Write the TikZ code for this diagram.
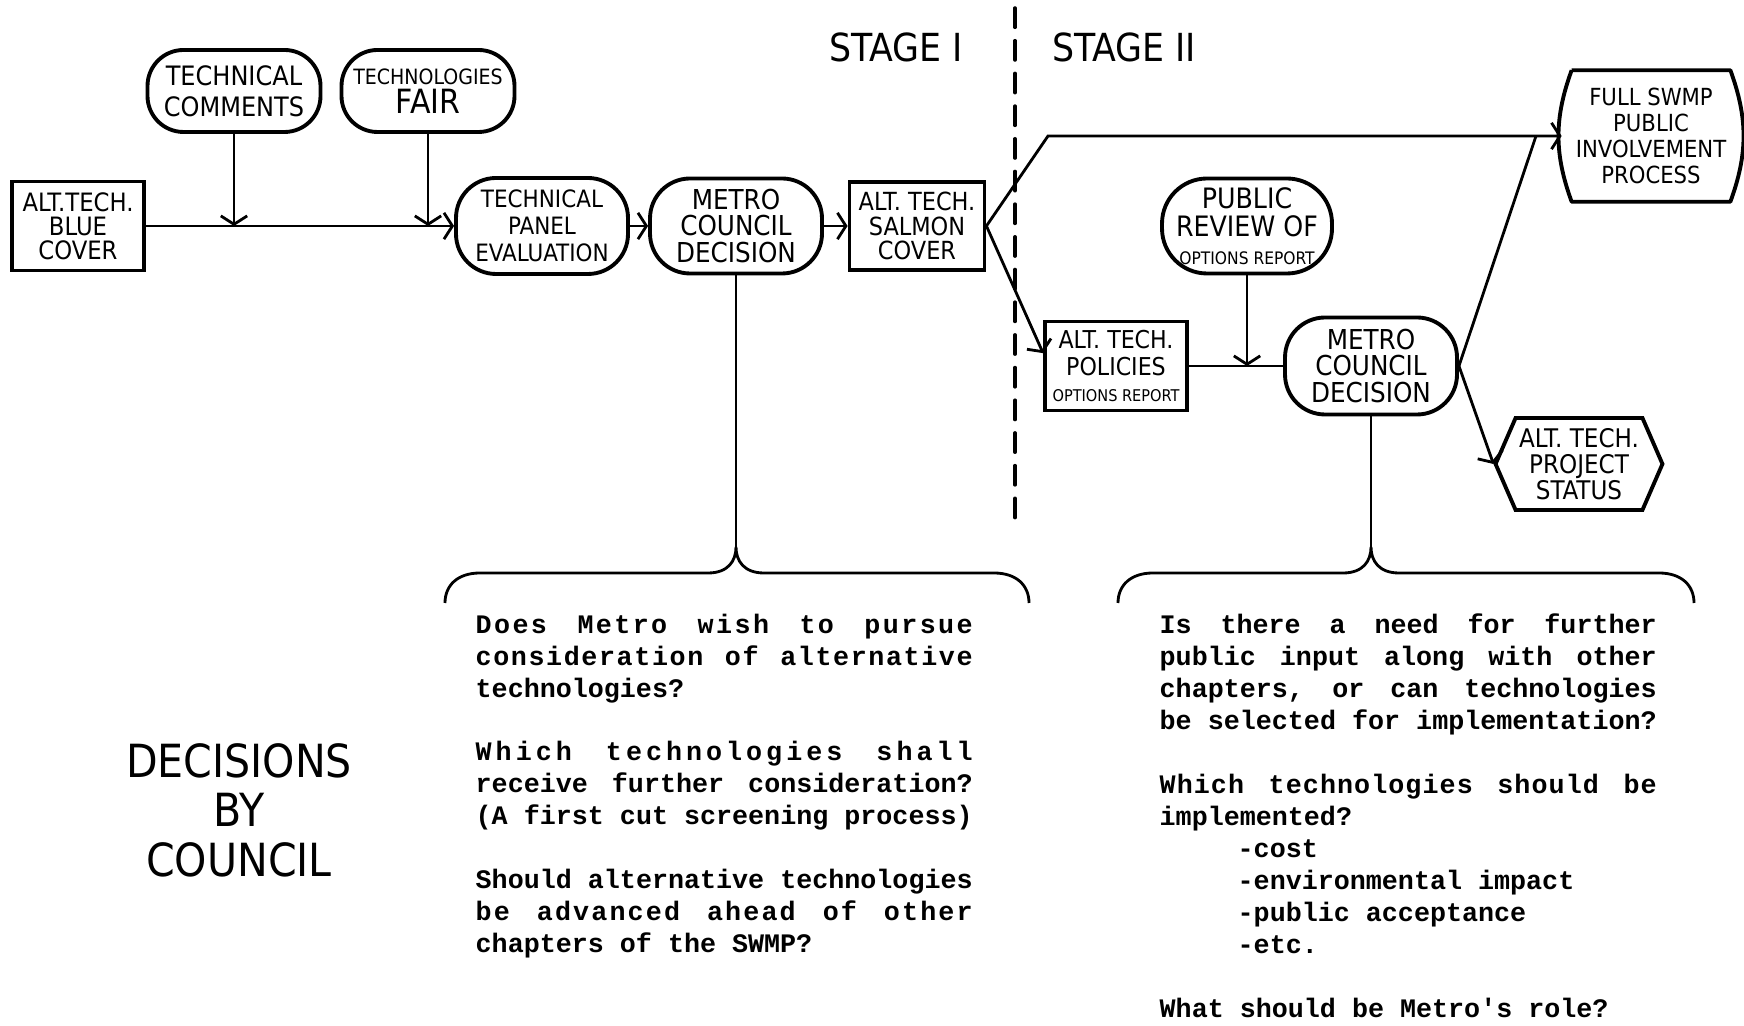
\documentclass[tikz,border=0pt]{standalone}
\usepackage{fontspec}
\usepackage{tikz}
\usetikzlibrary{arrows.meta, positioning, calc, shapes.symbols}
\newfontfamily\handfont{DejaVu Sans Condensed}
\newfontfamily\typefont{Liberation Mono}
\newcommand\hf[2]{\handfont\fontsize{#1}{#2}\selectfont}
\newlength\qwidth
\setlength\qwidth{4.97cm}
% one justified typewriter line, optionally letter-spaced
\newcommand\jl[2][0]{\makebox[\qwidth][s]{\addfontfeature{LetterSpace=#1}\spaceskip=0.6em plus 1fil\relax #2}}
\tikzset{
  pill/.style={rectangle, rounded corners=#1, draw, line width=1.1pt,
               align=center, inner sep=1pt},
  pill/.default=0.40cm,
  card/.style={rectangle, draw, line width=1.1pt, align=center, inner sep=1pt},
  hexa/.style={signal, signal to=west and east, signal pointer angle=133,
               draw, line width=1.1pt, align=center, inner sep=1pt},
  barrel/.style={rectangle, align=center, inner sep=1pt},
  edge/.style={line width=1.1pt, line join=round},
  conn/.style={line width=0.8pt},
  arr/.style={-{Straight Barb[length=2.4pt, width=7.5pt]}, line width=0.8pt},
  divider/.style={line width=1pt, dash pattern=on 5.5pt off 3.8pt, line cap=round},
  stage/.style={font=\hf{11}{12}},
  qtext/.style={anchor=north west, inner sep=0pt, text width=\qwidth, align=left,
                font=\typefont\bfseries\fontsize{7.6}{9.1}\selectfont,
                execute at begin node={\spaceskip=0.6em\relax}},
}
\begin{document}
\begin{tikzpicture}
  \useasboundingbox (0,0) rectangle (17.44,10.25);

  % --- Stage I ---
  \node[card, minimum width=1.32cm, minimum height=0.89cm, font=\hf{7.2}{6.8}] (blue) at (0.78,7.99) {ALT.TECH.\\BLUE\\COVER};
  \node[pill=0.36cm, minimum width=1.73cm, minimum height=0.82cm, font=\hf{7.6}{8.8}] (tc) at (2.34,9.34) {TECHNICAL\\COMMENTS};
  \node[pill=0.36cm, minimum width=1.73cm, minimum height=0.82cm, font=\hf{9.5}{8.4}] (tf) at (4.28,9.34) {{\hf{6}{8}TECHNOLOGIES}\\FAIR};
  \node[pill, minimum width=1.72cm, minimum height=0.96cm, font=\hf{6.8}{7.6}] (tpe) at (5.42,7.99) {TECHNICAL\\PANEL\\EVALUATION};
  \node[pill, minimum width=1.72cm, minimum height=0.95cm, font=\hf{7.8}{7.6}] (mcd1) at (7.36,7.99) {METRO\\COUNCIL\\DECISION};
  \node[card, minimum width=1.35cm, minimum height=0.88cm, font=\hf{7.1}{7}] (salmon) at (9.17,7.99) {ALT.\ TECH.\\SALMON\\COVER};

  \draw[arr] (blue) -- (tpe);
  \draw[arr] (tc) -- (tc |- blue);
  \draw[arr] (tf) -- (tf |- blue);
  \draw[arr] (tpe) -- (mcd1);
  \draw[arr] (mcd1) -- (salmon);

  % stage divider
  \node[stage] (s1) at (8.96,9.78) {STAGE I};
  \node[stage] (s2) at (11.24,9.78) {STAGE II};
  \draw[divider] (10.15,10.17) -- (10.15,5.03);

  % --- Stage II ---
  \node[card, minimum width=1.42cm, minimum height=0.89cm, font=\hf{7}{7.6}] (policies) at (11.16,6.59) {ALT.\ TECH.\\POLICIES\\{\hf{4.6}{5}OPTIONS REPORT}};
  \node[pill=0.45cm, minimum width=1.70cm, minimum height=0.95cm, font=\hf{8}{8}] (pr) at (12.47,7.99) {PUBLIC\\REVIEW OF\\{\hf{4.9}{5}OPTIONS REPORT}};
  \node[pill, minimum width=1.72cm, minimum height=0.97cm, font=\hf{7.8}{7.6}] (mcd2) at (13.71,6.59) {METRO\\COUNCIL\\DECISION};
  \node[barrel, minimum width=1.48cm, minimum height=1.30cm, font=\hf{6.7}{7.4}] (full) at (16.51,8.89) {FULL SWMP\\PUBLIC\\INVOLVEMENT\\PROCESS};
  \draw[edge] (full.north west) -- (full.north east) to[bend left=20] (full.south east)
              -- (full.south west) to[bend left=20] (full.north west);
  \node[hexa, minimum width=1.52cm, minimum height=0.92cm, font=\hf{7.3}{7.4}] (ps) at (15.79,5.61) {ALT.\ TECH.\\PROJECT\\STATUS};

  \coordinate (up) at (10.48,8.89);
  \coordinate (join) at (15.36,8.89);
  \draw[arr] (salmon.east) -- (up) -- ([xshift=-1mm]full.west);
  \draw[arr] (salmon.east) -- (policies.170);
  \draw[conn] (policies) -- (mcd2);
  \draw[arr] (pr) -- (pr |- mcd2);
  \draw[conn] (mcd2.east) -- (join);
  \draw[arr] (mcd2.east) -- (ps.west);

  % --- council questions ---
  \coordinate (tip1) at (7.36,4.78);
  \coordinate (tip2) at (13.71,4.78);
  \draw[conn] (mcd1) -- (tip1);
  \draw[conn] (mcd2) -- (tip2);
  \draw[conn] (4.45,4.22) .. controls (4.45,4.40) and (4.58,4.52) .. (4.80,4.52) -- (7.08,4.52)
    .. controls (7.28,4.52) and (7.36,4.64) .. (tip1) .. controls (7.36,4.64) and (7.44,4.52) .. (7.64,4.52)
    -- (9.94,4.52) .. controls (10.16,4.52) and (10.29,4.40) .. (10.29,4.22);
  \draw[conn] (11.18,4.22) .. controls (11.18,4.40) and (11.31,4.52) .. (11.53,4.52) -- (13.43,4.52)
    .. controls (13.63,4.52) and (13.71,4.64) .. (tip2) .. controls (13.71,4.64) and (13.79,4.52) .. (13.99,4.52)
    -- (16.59,4.52) .. controls (16.81,4.52) and (16.94,4.40) .. (16.94,4.22);

  \node[qtext] (q1) at (4.75,4.12) {%
    \jl[9]{Does Metro wish to pursue}\\
    \jl[6]{consideration of alternative}\\
    technologies?\\[9.1pt]
    \jl[15]{Which technologies shall}\\
    \jl{receive further consideration?}\\
    \jl{(A first cut screening process)}\\[9.1pt]
    \jl{Should alternative technologies}\\
    \jl[8]{be advanced ahead of other}\\
    chapters of the SWMP?};

  \node[qtext] (q2) at (11.59,4.12) {%
    \jl{Is there a need for further}\\
    \jl{public input along with other}\\
    \jl{chapters, or can technologies}\\
    \jl{be selected for implementation?}\\[9.1pt]
    \jl[4]{Which technologies should be}\\
    implemented?\\
    \hspace*{0.78cm}-cost\\
    \hspace*{0.78cm}-environmental impact\\
    \hspace*{0.78cm}-public acceptance\\
    \hspace*{0.78cm}-etc.\\[9.1pt]
    What should be Metro's role?};

  \node[font=\hf{13}{14.1}, align=center] (dbc) at (2.39,2.15) {DECISIONS\\BY\\COUNCIL};
\end{tikzpicture}
\end{document}
